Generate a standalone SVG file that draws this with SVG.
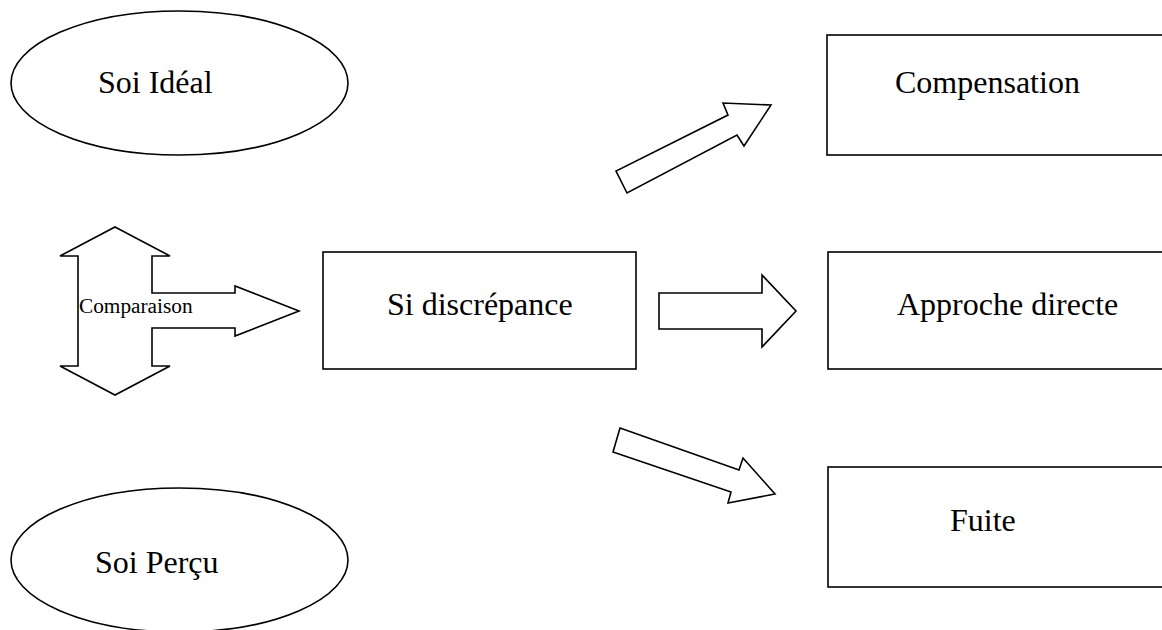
<svg xmlns="http://www.w3.org/2000/svg" width="1162" height="630" viewBox="0 0 1162 630">
<style>
.shape{fill:#fff;stroke:#000;stroke-width:1.6}
.arrow{fill:#fff;stroke:#000;stroke-width:1.6;stroke-linejoin:miter}
.lbl{font-family:"Liberation Serif","Times New Roman",serif;font-size:32px;fill:#000}
.small{font-family:"Liberation Serif","Times New Roman",serif;font-size:21.3px;fill:#000}
</style>
<rect width="1162" height="630" fill="#fff"/>
<g id="soi-ideal">
<ellipse class="shape" cx="179.5" cy="83" rx="168.5" ry="72"/>
<text class="lbl" x="98" y="93">Soi Idéal</text>
</g>
<g id="soi-percu">
<ellipse class="shape" cx="179.5" cy="560" rx="168.5" ry="72"/>
<text class="lbl" x="95" y="573">Soi Perçu</text>
</g>
<g id="si-discrepance">
<rect class="shape" x="323" y="252" width="313" height="117"/>
<text class="lbl" x="387" y="315">Si discrépance</text>
</g>
<g id="compensation">
<rect class="shape" x="827" y="35" width="340" height="120"/>
<text class="lbl" x="895" y="93">Compensation</text>
</g>
<g id="approche-directe">
<rect class="shape" x="828" y="252" width="340" height="117"/>
<text class="lbl" x="897" y="315">Approche directe</text>
</g>
<g id="fuite">
<rect class="shape" x="828" y="467" width="340" height="120"/>
<text class="lbl" x="950" y="531">Fuite</text>
</g>
<g id="connectors">
<path class="arrow" d="M115,227 L170,256 L152,256 L152,293 L235,293 L235,286 L299,311 L235,336 L235,328 L152,328 L152,366 L170,366 L115,395 L60,366 L78,366 L78,256 L60,256 Z"/>
<text class="small" x="79" y="313">Comparaison</text>
<path class="arrow" d="M659,293 L762,293 L762,275 L796,311 L762,347 L762,329 L659,329 Z"/>
<path class="arrow" d="M627,193 L616,171 L728,115 L723,103 L771,105 L744,146 L737,135 Z"/>
<path class="arrow" d="M620,428 L739,470 L743,458 L775,494 L728,503 L731,492 L613,452 Z"/>
</g>
</svg>
